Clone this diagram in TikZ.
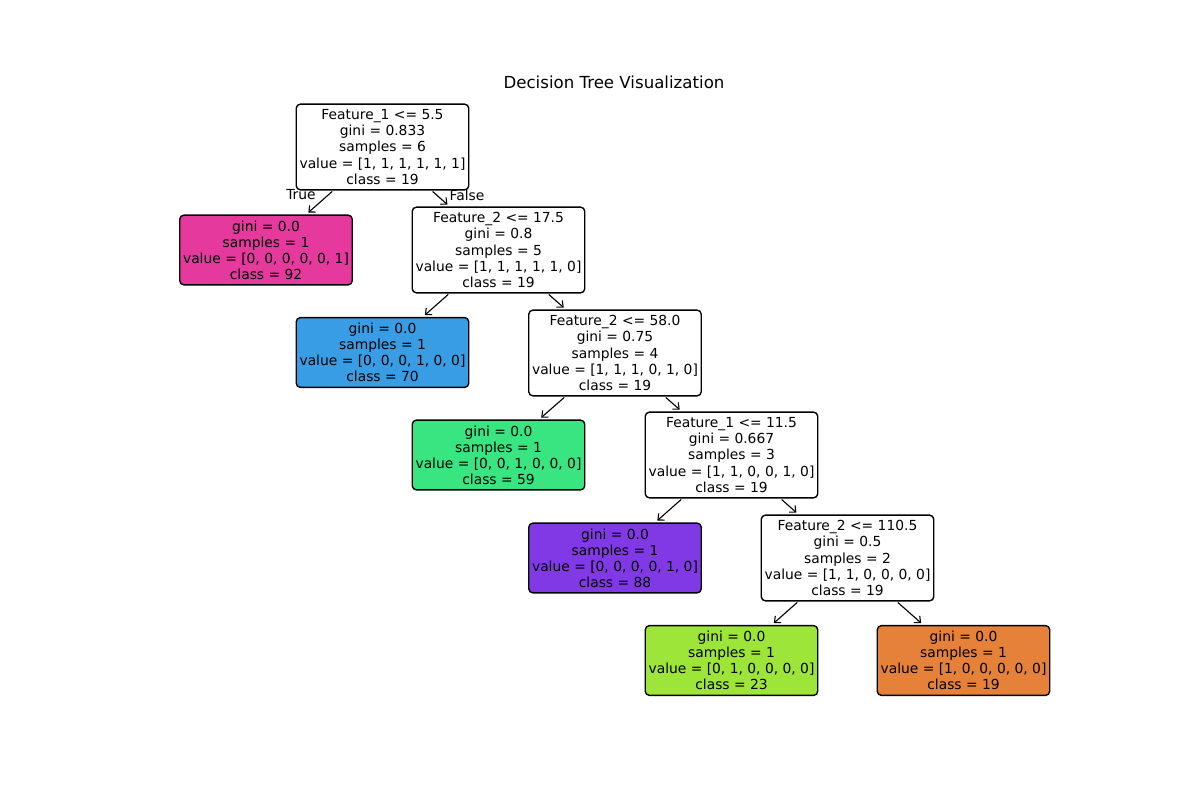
\documentclass[tikz,border=0pt]{standalone}
\usepackage{fontspec}
\setmainfont{DejaVu Sans}
\usetikzlibrary{arrows.meta}

\definecolor{cOrange}{HTML}{E58139}
\definecolor{cLime}{HTML}{9DE539}
\definecolor{cGreen}{HTML}{39E581}
\definecolor{cBlue}{HTML}{399DE5}
\definecolor{cPurple}{HTML}{8139E5}
\definecolor{cPink}{HTML}{E5399E}

\tikzset{
  treebox/.style={draw=black, line width=1pt, rounded corners=3pt, fill=white,
    align=center, inner sep=0pt, minimum width=124.6pt,
    font=\fontsize{10}{11.6}\selectfont},
  splitbox/.style={treebox, minimum height=61.9pt},
  leafbox/.style={treebox, minimum height=50.4pt},
  edge/.style={line width=0.8pt, -{Straight Barb[length=3.6pt,width=6.4pt]},
    shorten >=2pt, shorten <=1pt},
  edgelabel/.style={font=\fontsize{10}{12}\selectfont, inner sep=0pt}
}

\begin{document}
\begin{tikzpicture}[x=0.01in, y=-0.01in]
\useasboundingbox (0,0) rectangle (1200,800);

\node[font=\fontsize{12}{14}\selectfont] (title) at (614,82) {Decision Tree Visualization};

\node[splitbox] (n0) at (382.5,147) {Feature\_1 <= 5.5\\gini = 0.833\\samples = 6\\value = [1, 1, 1, 1, 1, 1]\\class = 19};
\node[leafbox, fill=cPink] (n1) at (266,250) {gini = 0.0\\samples = 1\\value = [0, 0, 0, 0, 0, 1]\\class = 92};
\node[splitbox] (n2) at (498.5,250) {Feature\_2 <= 17.5\\gini = 0.8\\samples = 5\\value = [1, 1, 1, 1, 1, 0]\\class = 19};
\node[leafbox, fill=cBlue] (n3) at (382.5,352.5) {gini = 0.0\\samples = 1\\value = [0, 0, 0, 1, 0, 0]\\class = 70};
\node[splitbox] (n4) at (615,353) {Feature\_2 <= 58.0\\gini = 0.75\\samples = 4\\value = [1, 1, 1, 0, 1, 0]\\class = 19};
\node[leafbox, fill=cGreen] (n5) at (498.5,455) {gini = 0.0\\samples = 1\\value = [0, 0, 1, 0, 0, 0]\\class = 59};
\node[splitbox] (n6) at (731.5,455) {Feature\_1 <= 11.5\\gini = 0.667\\samples = 3\\value = [1, 1, 0, 0, 1, 0]\\class = 19};
\node[leafbox, fill=cPurple] (n7) at (615,558) {gini = 0.0\\samples = 1\\value = [0, 0, 0, 0, 1, 0]\\class = 88};
\node[splitbox] (n8) at (847.5,558) {Feature\_2 <= 110.5\\gini = 0.5\\samples = 2\\value = [1, 1, 0, 0, 0, 0]\\class = 19};
\node[leafbox, fill=cLime] (n9) at (731.5,660.5) {gini = 0.0\\samples = 1\\value = [0, 1, 0, 0, 0, 0]\\class = 23};
\node[leafbox, fill=cOrange] (n10) at (963.5,660.5) {gini = 0.0\\samples = 1\\value = [1, 0, 0, 0, 0, 0]\\class = 19};

\draw[edge] (n0) -- (n1);
\draw[edge] (n0) -- (n2);
\draw[edge] (n2) -- (n3);
\draw[edge] (n2) -- (n4);
\draw[edge] (n4) -- (n5);
\draw[edge] (n4) -- (n6);
\draw[edge] (n6) -- (n7);
\draw[edge] (n6) -- (n8);
\draw[edge] (n8) -- (n9);
\draw[edge] (n8) -- (n10);

\node[edgelabel] (ltrue) at (301,195) {True};
\node[edgelabel] (lfalse) at (467,195) {False};
\end{tikzpicture}
\end{document}
